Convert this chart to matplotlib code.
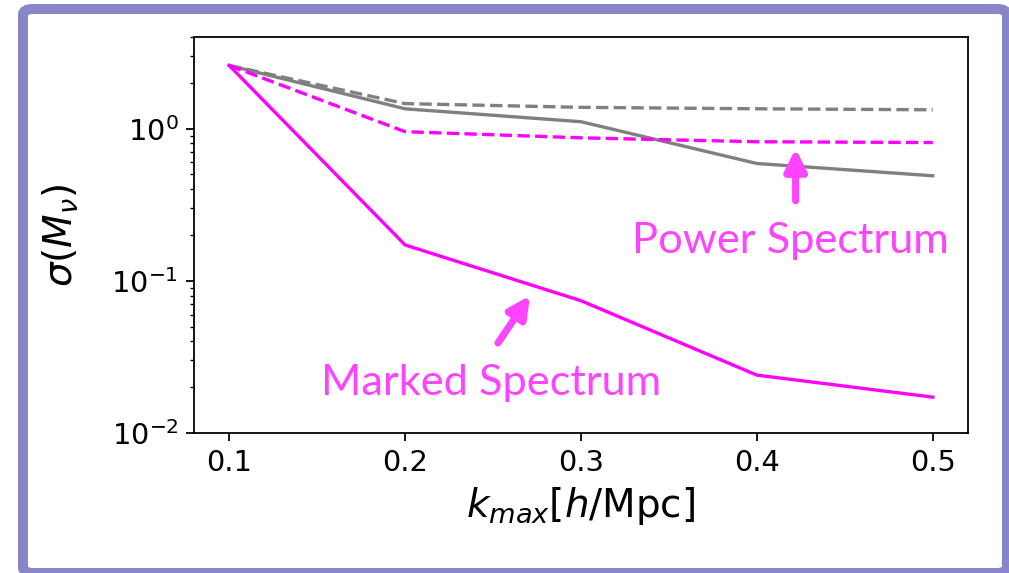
import numpy as np
import matplotlib
matplotlib.use("Agg")
import matplotlib.pyplot as plt
from matplotlib.patches import FancyBboxPatch

# values
k_max = [0.1, 0.2, 0.3, 0.4, 0.5]
marked_solid = [2.6, 0.172, 0.074, 0.024, 0.0172]
marked_dashed = [2.6, 0.955, 0.87, 0.82, 0.81]
power_solid = [2.6, 1.35, 1.11, 0.59, 0.49]
power_dashed = [2.6, 1.46, 1.38, 1.35, 1.33]

magenta = "#ff00ff"
label_col = "#ff44ff"
gray = "#808080"

fig = plt.figure(figsize=(1009 / 160, 573 / 160), dpi=160)
ax = fig.add_axes([194 / 1009, 1 - 433 / 573, (968 - 194) / 1009, (433 - 37) / 573])

ax.plot(k_max, power_dashed, color=gray, ls="--")
ax.plot(k_max, power_solid, color=gray, ls="-")
ax.plot(k_max, marked_dashed, color=magenta, ls="--")
ax.plot(k_max, marked_solid, color=magenta, ls="-")

ax.set_yscale("log")
ax.set_ylim(1e-2, 4)
ax.set_xticks(k_max)
ax.tick_params(labelsize=13)
ax.set_xlabel(r"$k_{max}[h/\mathrm{Mpc}]$", fontsize=17.5)
ax.set_ylabel(r"$\sigma(M_\nu)$", fontsize=17.5)
ax.yaxis.set_label_coords(-0.146, 0.5)

ann = dict(arrowstyle="-|>", color=label_col, lw=3.2, mutation_scale=20, shrinkA=0, shrinkB=0)
ax.annotate("", xy=(0.271, 0.08), xytext=(0.2528, 0.039), arrowprops=ann)
ax.annotate("", xy=(0.422, 0.74), xytext=(0.422, 0.336), arrowprops=ann)
ax.text(0.249, 0.0178, "Marked Spectrum", color=label_col, fontsize=19.5,
        family="Lato", ha="center", va="baseline")
ax.text(0.419, 0.153, "Power Spectrum", color=label_col, fontsize=19.5,
        family="Lato", ha="center", va="baseline")

# purple frame around the whole picture
frame = FancyBboxPatch((23 / 1009, 0), 984 / 1009, 564 / 573,
                       boxstyle="round,pad=0,rounding_size=0.01",
                       transform=fig.transFigure, fill=False,
                       edgecolor="#8886c6", lw=10 * 72 / 160, clip_on=False)
fig.patches.append(frame)

fig.savefig("out.png", dpi=160)
